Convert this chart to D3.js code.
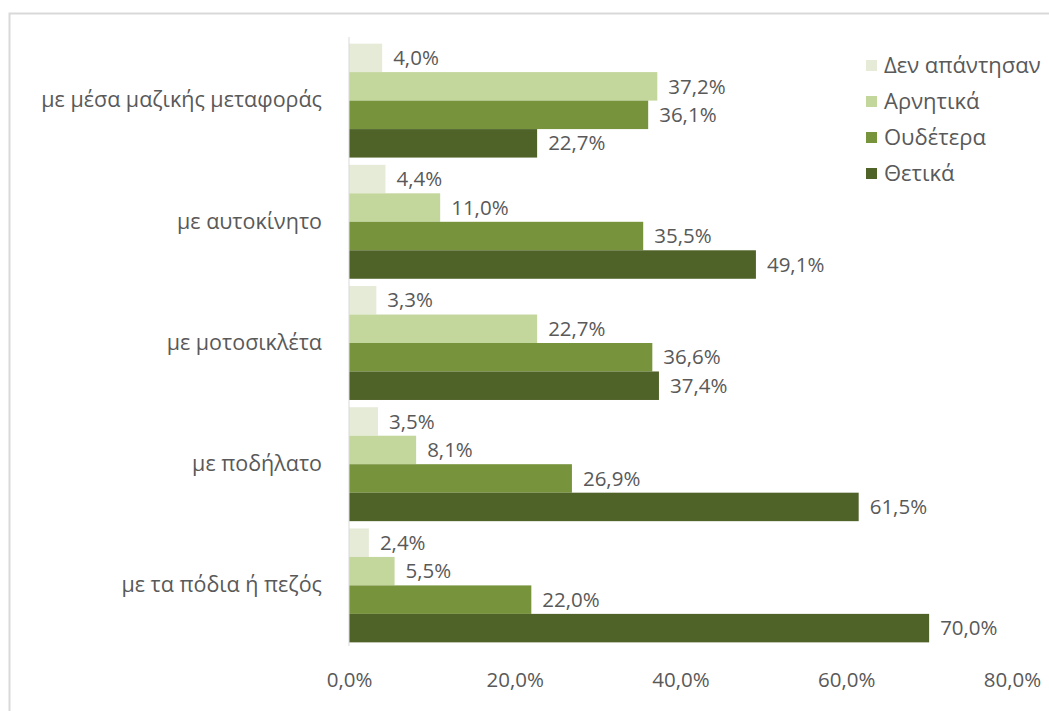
<!DOCTYPE html>
<html><head><meta charset="utf-8">
<script src="https://cdn.jsdelivr.net/npm/d3@7/dist/d3.min.js"></script>
<style>
html,body{margin:0;padding:0;background:#fff;}
svg{display:block;font-family:"Open Sans","Noto Sans",sans-serif;}
</style></head><body>
<svg id="chart" width="1049" height="711"></svg>
<script>
const categories = ["με μέσα μαζικής μεταφοράς","με αυτοκίνητο","με μοτοσικλέτα","με ποδήλατο","με τα πόδια ή πεζός"];
const seriesNames = ["Δεν απάντησαν","Αρνητικά","Ουδέτερα","Θετικά"];
const noAnswer = [4.0, 4.4, 3.3, 3.5, 2.4];
const negative = [37.2, 11.0, 22.7, 8.1, 5.5];
const neutral  = [36.1, 35.5, 36.6, 26.9, 22.0];
const positive = [22.7, 49.1, 37.4, 61.5, 70.0];
const tickValues = [0, 20, 40, 60, 80];
const colors = ["#e6ebd8","#c3d69b","#77933c","#4f6228"];

const series = [noAnswer, negative, neutral, positive];
const svg = d3.select("#chart");
const fmt = v => d3.format(".1f")(v).replace(".", ",") + "%";
const txt = "#595959";

// frame
svg.append("rect").attr("x",9.5).attr("y",13.5).attr("width",1100).attr("height",800)
  .attr("fill","#fff").attr("stroke","#d9d9d9").attr("stroke-width",2);

const x = d3.scaleLinear().domain([0,80]).range([349,1012]);
const y0 = d3.scaleBand().domain(categories).range([40,646]).paddingInner(0.06).paddingOuter(0.03);
const y1 = d3.scaleBand().domain(seriesNames).range([0,y0.bandwidth()]);

const g = svg.append("g");
categories.forEach((c,ci)=>{
  const gg = g.append("g").attr("transform",`translate(0,${y0(c)})`);
  seriesNames.forEach((s,si)=>{
    const v = series[si][ci];
    gg.append("rect").attr("x",x(0)).attr("y",y1(s)).attr("width",x(v)-x(0)).attr("height",y1.bandwidth())
      .attr("fill",colors[si]);
    gg.append("text").attr("x",x(v)+11).attr("y",y1(s)+y1.bandwidth()/2).attr("dy","0.35em")
      .attr("fill",txt).attr("font-size",20.5).text(fmt(v));
  });
});

// y axis
const yAxis = d3.axisLeft(y0).tickSize(0).tickPadding(27);
const ya = svg.append("g").attr("transform",`translate(${x(0)},0)`).call(yAxis);
ya.select(".domain").attr("stroke","#d9d9d9").attr("d","M0,37V646");
ya.selectAll("text").attr("font-size",21.5).attr("fill",txt).attr("font-family","'Open Sans','Noto Sans',sans-serif");

// x axis
const xAxis = d3.axisBottom(x).tickValues(tickValues).tickSize(0).tickPadding(18).tickFormat(d=>fmt(d));
const xa = svg.append("g").attr("transform",`translate(0,654)`).call(xAxis);
xa.select(".domain").remove();
xa.selectAll("text").attr("font-size",20.5).attr("fill",txt).attr("font-family","'Open Sans','Noto Sans',sans-serif");

// legend
const lg = svg.append("g").attr("transform","translate(866,65)");
seriesNames.forEach((s,i)=>{
  const r = lg.append("g").attr("transform",`translate(0,${i*36})`);
  r.append("rect").attr("x",0).attr("y",-5).attr("width",11).attr("height",11).attr("fill",colors[i]);
  r.append("text").attr("x",18).attr("y",0).attr("dy","0.35em").attr("font-size",22).attr("fill",txt).text(s);
});
</script>
</body></html>
